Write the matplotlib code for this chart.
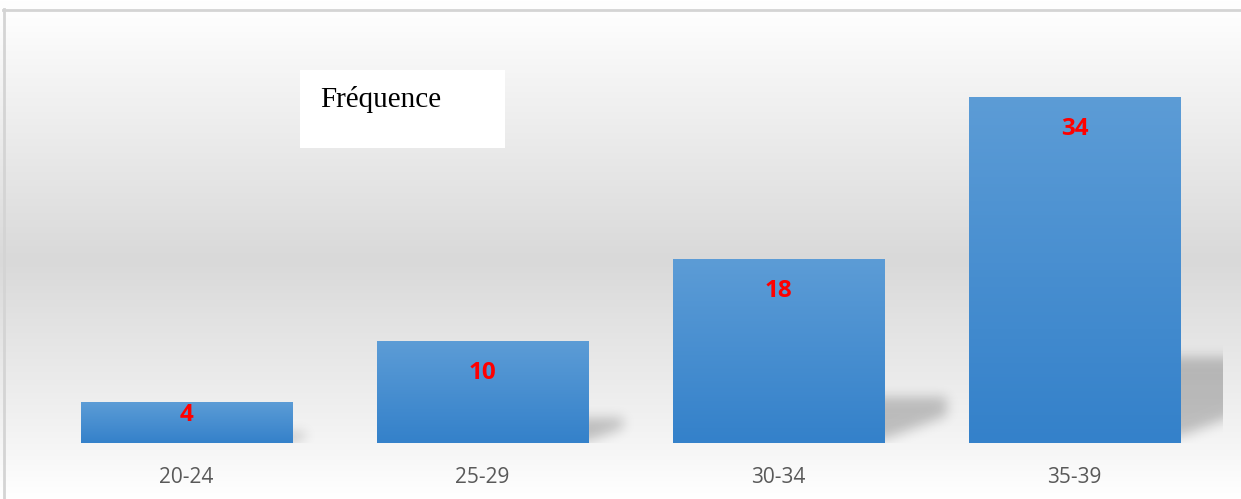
import numpy as np
import matplotlib
matplotlib.use("Agg")
import matplotlib.pyplot as plt
from matplotlib.colors import LinearSegmentedColormap
from matplotlib.patches import Rectangle
from matplotlib.path import Path

# data
categories = ["20-24", "25-29", "30-34", "35-39"]
frequence = [4, 10, 18, 34]
title = "Fréquence"

W, H = 1241, 499
fig = plt.figure(figsize=(W / 100, H / 100), dpi=100)

# background gradient (whole chart area)
bg = fig.add_axes([0, 0, 1, 1], zorder=0)
bg_cmap = LinearSegmentedColormap.from_list(
    "bg", [(0.0, "#ffffff"), (10 / H, "#fefefe"), (260 / H, "#d9d9d9"),
           (440 / H, "#f4f4f4"), (1.0, "#ffffff")])
grad = np.linspace(0, 1, 500).reshape(-1, 1)
bg.imshow(grad, cmap=bg_cmap, aspect="auto", extent=[0, W, H, 0])
bg.set_xlim(0, W)
bg.set_ylim(H, 0)
bg.axis("off")
# chart frame (left and top edges visible)
bg.plot([3.5, 3.5], [9, H], color="#d4d4d4", lw=2)
bg.plot([3, W], [9.5, 9.5], color="#d4d4d4", lw=2)
# title box
bg.add_patch(Rectangle((300, 70), 205, 78, facecolor="white", edgecolor="none"))
bg.text(320, 99, title, fontsize=21, family="Liberation Serif", va="center", ha="left", color="black")

# plot area
left, right, bottom, top = 38.5, 1222.5, 443, 36
ax = fig.add_axes([left / W, (H - bottom) / H, (right - left) / W, (bottom - top) / H], zorder=1)
ax.patch.set_alpha(0)
for s in ax.spines.values():
    s.set_visible(False)
ax.set_yticks([])
ax.set_xticks(range(len(categories)))
ax.set_xticklabels(categories, fontsize=15, family="Open Sans", color="#595959")
ax.tick_params(axis="x", length=0, pad=17)

px_x = (right - left) / len(categories)   # pixels per x unit
px_y = (bottom - top) / 40.0               # pixels per y unit

bar_w = 0.713
bar_cmap = LinearSegmentedColormap.from_list("bar", ["#3481ca", "#5c9cd6"])


def blur(a, sigma):
    r = int(3 * sigma)
    k = np.exp(-0.5 * (np.arange(-r, r + 1) / sigma) ** 2)
    k /= k.sum()
    a = np.apply_along_axis(lambda m: np.convolve(m, k, mode="same"), 0, a)
    a = np.apply_along_axis(lambda m: np.convolve(m, k, mode="same"), 1, a)
    return a


for i, v in enumerate(frequence):
    xr = i + bar_w / 2
    h = v * px_y
    # perspective shadow in pixel space, blurred
    poly = Path([(-20, 0.02 * h), (-20, 0.25 * h), (0.34 * h, 0.25 * h),
                 (0.34 * h, 0.15 * h), (0, 0.02 * h)])
    m = 30
    gw, gh = int(0.34 * h) + 2 * m, int(0.25 * h) + 2 * m
    gx, gy = np.meshgrid(np.arange(gw) - m + 0.5, np.arange(gh) - m + 0.5)
    mask = poly.contains_points(np.c_[gx.ravel(), gy.ravel()]).reshape(gh, gw).astype(float)
    mask = blur(mask, 6)
    mask = mask[m:, m:]  # nothing left of the bar or under the baseline
    rgba = np.zeros(mask.shape + (4,))
    rgba[..., 3] = mask * 0.22
    ax.imshow(rgba, origin="lower", aspect="auto", interpolation="bilinear",
              extent=[xr, xr + mask.shape[1] / px_x, 0, mask.shape[0] / px_y], zorder=1)
    # bar with vertical gradient
    ax.imshow(np.linspace(0, 1, 100).reshape(-1, 1), cmap=bar_cmap, origin="lower",
              aspect="auto", extent=[i - bar_w / 2, i + bar_w / 2, 0, v], zorder=2)
    # value label inside end
    ly = v - min(3.1, v * 0.32)
    ax.text(i, ly, str(v), ha="center", va="center", color="#ff0000",
            fontsize=17.5, fontweight="bold", family="Open Sans", zorder=3)

ax.set_xlim(-0.5, len(categories) - 0.5)
ax.set_ylim(0, 40)

fig.savefig("out.png", dpi=100)
